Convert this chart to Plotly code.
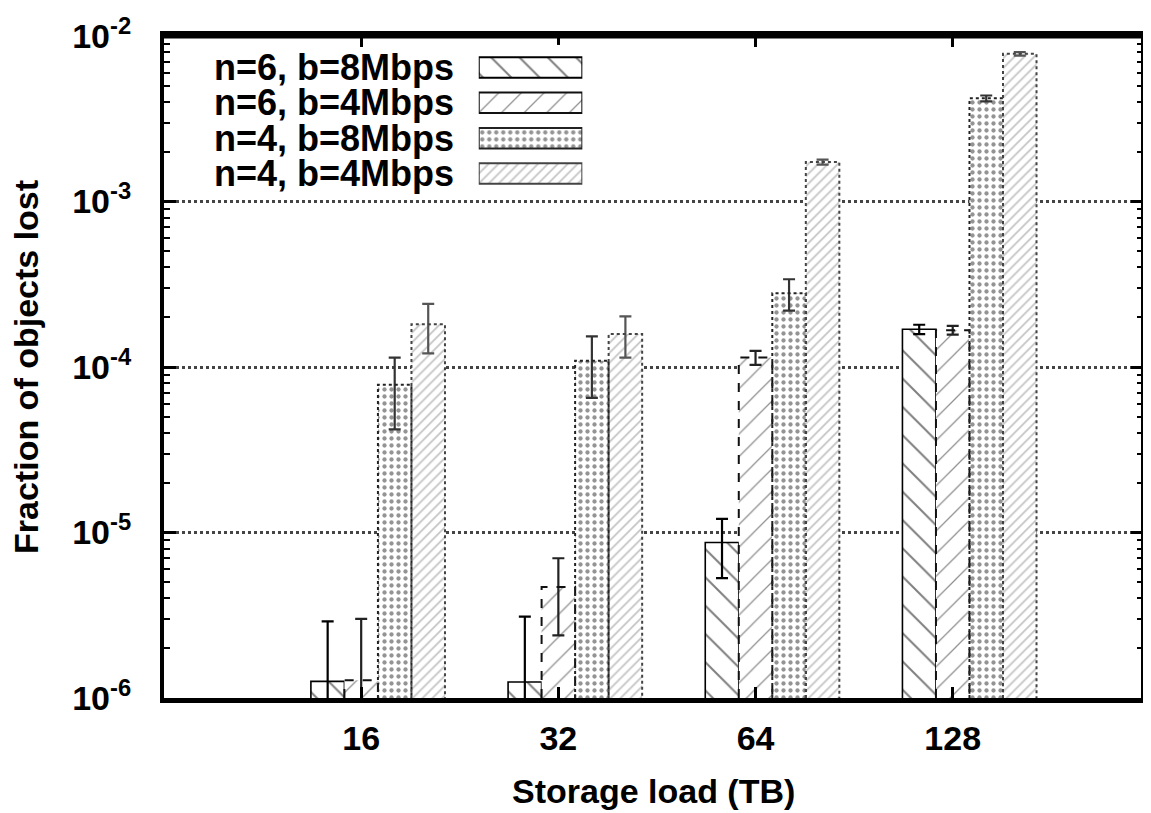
import plotly.graph_objects as go

# ---- data ----
categories = ["16", "32", "64", "128"]
series_names = ["n=6, b=8Mbps", "n=6, b=4Mbps", "n=4, b=8Mbps", "n=4, b=4Mbps"]
s1_vals = [1.26e-6, 1.25e-6, 8.7e-6, 1.69e-4]
s1_err = [1.64e-6, 1.85e-6, 3.4e-6, 1.1e-5]
s2_vals = [1.28e-6, 4.69e-6, 1.14e-4, 1.67e-4]
s2_err = [1.73e-6, 2.3e-6, 1.1e-5, 1.0e-5]
s3_vals = [7.8e-5, 1.09e-4, 2.79e-4, 4.2e-3]
s3_err = [3.6e-5, 4.4e-5, 6.0e-5, 1.7e-4]
s4_vals = [1.81e-4, 1.58e-4, 1.73e-3, 7.8e-3]
s4_err = [6.0e-5, 4.4e-5, 6.0e-5, 1.8e-4]
y_tick_exps = [-6, -5, -4, -3, -2]

values = [s1_vals, s2_vals, s3_vals, s4_vals]
errors = [s1_err, s2_err, s3_err, s4_err]

# ---- styles ----
FONT = "Liberation Sans"
W = 0.17
Y_MIN_EXP, Y_MAX_EXP = -6, -2
styles = [
    dict(shape="\\", fg="#000000", size=20, sol=0.1, line="#000000", dash="solid", err="#000000"),
    dict(shape="/", fg="#222222", size=16, sol=0.08, line="#111111", dash="dash", err="#222222"),
    dict(shape=".", fg="#2a2a2a", size=7, sol=0.3, line="#222222", dash="dot", err="#333333"),
    dict(shape="/", fg="#8a8a8a", size=7, sol=0.25, line="#444444", dash="dot", err="#555555"),
]

fig = go.Figure()
xs = list(range(len(categories)))
for j, (name, vals, errs, st) in enumerate(zip(series_names, values, errors, styles)):
    off = (j - 1) * W - W / 2
    fig.add_trace(go.Bar(
        x=xs, y=vals, name=name,
        width=W, offset=off,
        marker=dict(color="white",
                    line=dict(color=st["line"], width=1.6 if st["dash"] == "solid" else 0),
                    pattern=dict(shape=st["shape"], fgcolor=st["fg"], bgcolor="white",
                                 size=st["size"], solidity=st["sol"], fillmode="overlay")),
        error_y=dict(type="data", array=errs, visible=True, color=st["err"],
                     thickness=2.2, width=6),
        showlegend=False,
    ))
    if st["dash"] != "solid":
        # dashed / dotted outline of each bar, built from the same values
        ox, oy = [], []
        base = 10.0 ** Y_MIN_EXP
        for xi, v in zip(xs, vals):
            l, r = xi + off, xi + off + W
            ox += [l, l, r, r, None]
            oy += [base, v, v, base, None]
        fig.add_trace(go.Scatter(
            x=ox, y=oy, mode="lines",
            line=dict(color=st["line"], width=2, dash=st["dash"]),
            showlegend=False, hoverinfo="skip", cliponaxis=True,
        ))
    # legend sample (drawn on a small separate axis pair)
    fig.add_trace(go.Bar(
        x=[1], y=[name], orientation="h", width=0.58,
        xaxis="x2", yaxis="y2",
        marker=dict(color="white",
                    line=dict(color=st["line"], width=2),
                    pattern=dict(shape=st["shape"], fgcolor=st["fg"], bgcolor="white",
                                 size=st["size"], solidity=st["sol"], fillmode="overlay")),
        showlegend=False, hoverinfo="skip",
    ))
    fig.add_annotation(x=0.2980, y=name, xref="paper", yref="y2", text=name,
                       xanchor="right", yanchor="middle", showarrow=False,
                       font=dict(family=FONT, size=36, color="black", weight="bold"))

minor_vals = [k * 10 ** e for e in range(Y_MIN_EXP, Y_MAX_EXP) for k in range(2, 10)]

fig.update_layout(
    width=1143, height=805,
    margin=dict(l=156, r=4, t=24, b=115),
    paper_bgcolor="white", plot_bgcolor="white",
    barmode="overlay",
    showlegend=False,
    font=dict(family=FONT, size=34, color="black", weight="bold"),
    xaxis=dict(
        range=[-1.0, 3.965], tickmode="array", tickvals=xs, ticktext=categories,
        ticks="inside", ticklen=11, tickwidth=3, tickcolor="black",
        showline=True, linewidth=5, linecolor="black", mirror="allticks",
        showgrid=False, zeroline=False, ticklabelstandoff=6,
        ticklabeloverflow="allow",
        tickfont=dict(family=FONT, size=34, color="black", weight="bold"),
    ),
    yaxis=dict(
        type="log", range=[Y_MIN_EXP, Y_MAX_EXP],
        tickmode="array", tickvals=[10.0 ** e for e in y_tick_exps],
        ticktext=["10<sup>%d</sup>" % e for e in y_tick_exps],
        ticks="inside", ticklen=12, tickwidth=2.5, tickcolor="black",
        showline=True, linewidth=4, linecolor="black", mirror="allticks",
        showgrid=True, gridcolor="#444444", griddash="dot", gridwidth=2.5,
        zeroline=False, ticklabelstandoff=22, ticklabeloverflow="allow",
        tickfont=dict(family=FONT, size=34, color="black", weight="bold"),
        minor=dict(tickmode="array", tickvals=minor_vals, ticks="inside",
                   ticklen=6, tickwidth=1.5, tickcolor="black", showgrid=False),
    ),
    xaxis2=dict(domain=[0.3215, 0.4273], range=[0, 1], visible=False,
                anchor="y2", fixedrange=True),
    yaxis2=dict(domain=[0.7583, 0.9865], type="category", categoryorder="array",
                categoryarray=series_names, autorange="reversed", visible=False,
                anchor="x2", fixedrange=True),
)

# top and right frame lines of the plot box
fig.add_shape(type="line", xref="x domain", yref="y domain", x0=0, x1=1, y0=1, y1=1,
              line=dict(color="black", width=5), layer="above")
fig.add_shape(type="line", xref="x domain", yref="y domain", x0=1, x1=1, y0=0, y1=1,
              line=dict(color="black", width=4), layer="above")

fig.add_annotation(text="Fraction of objects lost", xref="paper", yref="paper",
                   x=-0.141, y=0.5, textangle=-90, showarrow=False,
                   xanchor="center", yanchor="middle",
                   font=dict(family=FONT, size=34, color="black", weight="bold"))
fig.add_annotation(text="Storage load (TB)", xref="paper", yref="paper",
                   x=0.5, y=-0.141, showarrow=False,
                   xanchor="center", yanchor="middle",
                   font=dict(family=FONT, size=34, color="black", weight="bold"))

fig.write_html("out.html")
